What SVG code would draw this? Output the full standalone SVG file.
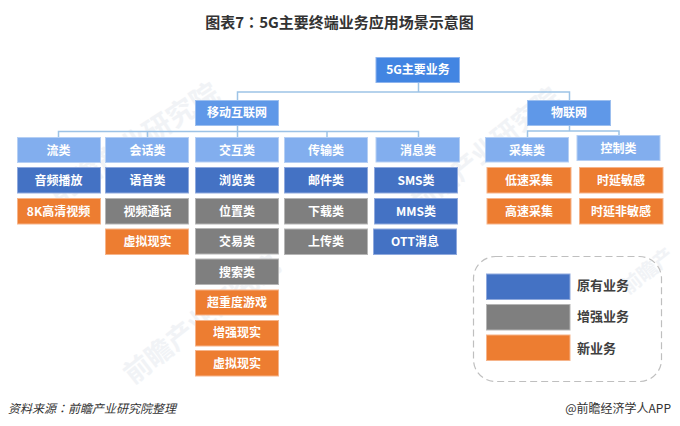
<svg xmlns="http://www.w3.org/2000/svg" width="680" height="426" viewBox="0 0 680 426">
<style>
text{font-family:"Noto Sans CJK SC","Liberation Sans",sans-serif}
.n{font-size:12px;font-weight:700;fill:#fff;text-anchor:middle}
.c{fill:none;stroke:#9dc3e6;stroke-width:1.5}
.t0{fill:#4285e2;stroke:#8db4ee}
.t1{fill:#5f98e8;stroke:#9cbfef}
.t2{fill:#82aeee;stroke:#b5cff4}
.b{fill:#4472c4;stroke:#8fa9dd}
.g{fill:#7f7f7f;stroke:#b5b5b5}
.o{fill:#ed7d31;stroke:#f6b48a}
.l{font-size:13px;font-weight:700;fill:#404040}
.w{font-weight:700;fill:#e4e9ef;opacity:.5}
.tc{font-family:"Noto Sans CJK TC",sans-serif}
</style>
<rect width="680" height="426" fill="#fff"/>
<g id="watermarks">
<text class="w" font-size="27" transform="translate(133 385) rotate(-38)">前瞻产业研究院</text>
<text class="w" font-size="28" transform="translate(57 205) rotate(-33)">前瞻产业研究院</text>
<text class="w" font-size="26" transform="translate(420 215) rotate(-39)">前瞻产业研究院</text>
<text class="w" font-size="20" transform="translate(628 295) rotate(-38)">前瞻产</text>
</g>
<text x="339.5" y="28" text-anchor="middle" style="font-size:15px;font-weight:700;fill:#333">图表7<tspan class="tc">：</tspan>5G主要终端业务应用场景示意图</text>
<g id="connectors">
<path class="c" d="M418.5 83V92M237.5 100V92H569.5V100"/>
<path class="c" d="M237.5 125V131.5M58.5 137V131.5H418.5V137M147.5 131.5V137M237.5 131.5V137M327 131.5V137"/>
<path class="c" d="M569.5 125V131M527.5 137V131H619V135"/>
</g>
<g id="n-root"><rect class="t0" x="376" y="57.5" width="83.5" height="25"/><text class="n" x="418" y="74">5G主要业务</text></g>
<g id="n-mobile"><rect class="t1" x="195.500" y="100.500" width="83" height="25"/><text class="n" x="237" y="117">移动互联网</text></g>
<g id="n-iot"><rect class="t1" x="527.500" y="100.500" width="83" height="25"/><text class="n" x="569" y="117">物联网</text></g>

<g id="n-liu"><rect class="t2" x="17.500" y="137.500" width="83" height="25"/><text class="n" x="58.500" y="154.500">流类</text></g>
<g id="n-huihua"><rect class="t2" x="105.500" y="137.500" width="83" height="25"/><text class="n" x="147.500" y="154.500">会话类</text></g>
<g id="n-jiaohu"><rect class="t2" x="195.500" y="137.500" width="83" height="24.500"/><text class="n" x="237" y="154.500">交互类</text></g>
<g id="n-chuanshu"><rect class="t2" x="284.500" y="137.500" width="83" height="25"/><text class="n" x="326" y="154.500">传输类</text></g>
<g id="n-xiaoxi"><rect class="t2" x="376" y="137.500" width="83.500" height="24.500"/><text class="n" x="418" y="154.500">消息类</text></g>
<g id="n-caiji"><rect class="t2" x="485.500" y="137.500" width="83" height="24.500"/><text class="n" x="527" y="154.500">采集类</text></g>
<g id="n-kongzhi"><rect class="t2" x="577" y="135.500" width="83" height="25"/><text class="n" x="618.500" y="153">控制类</text></g>

<g id="n-yinpin"><rect class="b" x="17.500" y="167.500" width="83" height="25.500"/><text class="n" x="58.500" y="184.500">音频播放</text></g>
<g id="n-yuyin"><rect class="b" x="105.500" y="167.500" width="83" height="25.500"/><text class="n" x="147.500" y="184.500">语音类</text></g>
<g id="n-liulan"><rect class="b" x="195.500" y="167.500" width="83" height="25.500"/><text class="n" x="237" y="184.500">浏览类</text></g>
<g id="n-youjian"><rect class="b" x="284.500" y="167.500" width="83" height="25.500"/><text class="n" x="326" y="184.500">邮件类</text></g>
<g id="n-sms"><rect class="b" x="374.500" y="167.500" width="83" height="25.500"/><text class="n" x="416" y="184.500">SMS类</text></g>
<g id="n-disu"><rect class="o" x="487" y="167.500" width="84" height="25.500"/><text class="n" x="529" y="184.500">低速采集</text></g>
<g id="n-shiyan"><rect class="o" x="579.500" y="167.500" width="83.500" height="25.500"/><text class="n" x="621" y="184.500">时延敏感</text></g>

<g id="n-8k"><rect class="o" x="17.500" y="198.500" width="83" height="25.500"/><text class="n" x="58.500" y="215.500">8K高清视频</text></g>
<g id="n-shipin"><rect class="g" x="105.500" y="198.500" width="83" height="25.500"/><text class="n" x="147.500" y="215.500">视频通话</text></g>
<g id="n-weizhi"><rect class="g" x="195.500" y="198.500" width="83" height="25.500"/><text class="n" x="237" y="215.500">位置类</text></g>
<g id="n-xiazai"><rect class="g" x="284.500" y="198.500" width="83" height="25.500"/><text class="n" x="326" y="215.500">下载类</text></g>
<g id="n-mms"><rect class="b" x="374.500" y="198.500" width="83" height="25.500"/><text class="n" x="416" y="215.500">MMS类</text></g>
<g id="n-gaosu"><rect class="o" x="487" y="198.500" width="84" height="25.500"/><text class="n" x="529" y="215.500">高速采集</text></g>
<g id="n-feimin"><rect class="o" x="579.500" y="198.500" width="83.500" height="25.500"/><text class="n" x="621" y="215.500">时延非敏感</text></g>

<g id="n-vr1"><rect class="o" x="105.500" y="229" width="83" height="25.500"/><text class="n" x="147.500" y="245.500">虚拟现实</text></g>
<g id="n-jiaoyi"><rect class="g" x="195.500" y="228.500" width="83" height="25.500"/><text class="n" x="237" y="245.500">交易类</text></g>
<g id="n-shangchuan"><rect class="g" x="284.500" y="229" width="83" height="25.500"/><text class="n" x="326" y="245.500">上传类</text></g>
<g id="n-ott"><rect class="b" x="373.500" y="229" width="83" height="25.500"/><text class="n" x="415" y="245.500">OTT消息</text></g>

<g id="n-sousuo"><rect class="g" x="195.500" y="259" width="83" height="25.500"/><text class="n" x="237" y="276.500">搜索类</text></g>
<g id="n-chaozhong"><rect class="o" x="195.500" y="290" width="83" height="25"/><text class="n" x="237" y="307">超重度游戏</text></g>
<g id="n-ar"><rect class="o" x="195.500" y="320.500" width="83" height="25.500"/><text class="n" x="237" y="337">增强现实</text></g>
<g id="n-vr2"><rect class="o" x="195.500" y="350.500" width="83" height="25.500"/><text class="n" x="237" y="367.500">虚拟现实</text></g>

<g id="legend">
<rect x="473.500" y="256.500" width="188" height="125" rx="22" fill="none" stroke="#bfbfbf" stroke-width="1.200" stroke-dasharray="7 4"/>
<rect class="b" x="486.500" y="274" width="83.500" height="25.500"/><text class="l" x="577" y="289.500">原有业务</text>
<rect class="g" x="486.500" y="304.500" width="83.500" height="25.500"/><text class="l" x="577" y="321">增强业务</text>
<rect class="o" x="486.500" y="335" width="83.500" height="25.500"/><text class="l" x="577" y="353">新业务</text>
</g>
<text x="8" y="412.500" style="font-size:12px;font-style:italic;fill:#333">资料来源<tspan class="tc">：</tspan>前瞻产业研究院整理</text>
<text x="671" y="412.500" text-anchor="end" style="font-size:12px;fill:#333">@前瞻经济学人APP</text>
</svg>
